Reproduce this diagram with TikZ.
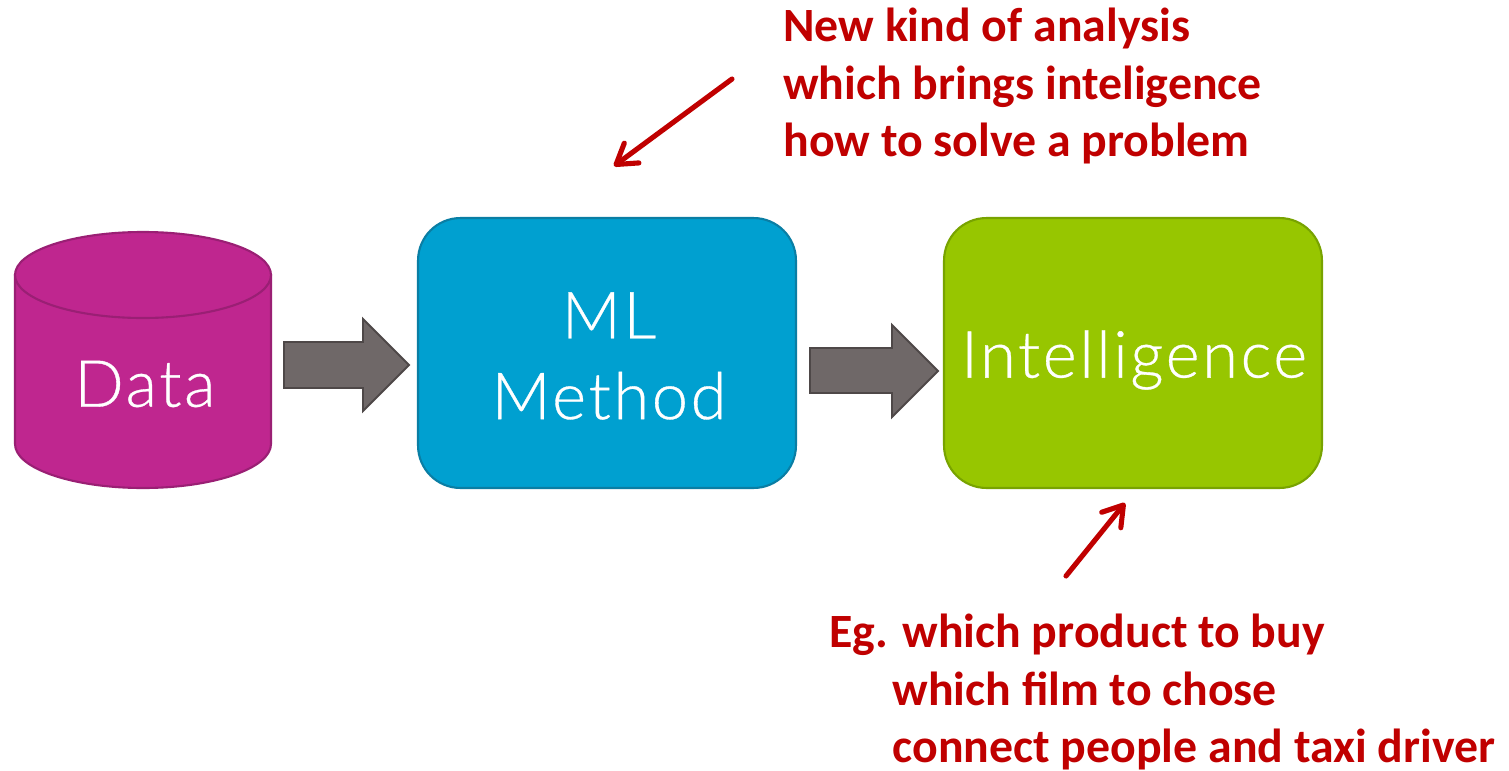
\documentclass[tikz,border=0pt]{standalone}
\usepackage{fontspec}
\setmainfont{Carlito}
\newfontfamily\lightfont{Lato Light}[LetterSpace=4,FakeBold=0.5]
\usetikzlibrary{arrows.meta}
\definecolor{cylF}{HTML}{BF268F}
\definecolor{cylD}{HTML}{9A1F74}
\definecolor{blueF}{HTML}{00A0D0}
\definecolor{blueD}{HTML}{0A7EA4}
\definecolor{greenF}{HTML}{97C600}
\definecolor{greenD}{HTML}{78A300}
\definecolor{grayF}{HTML}{6F6868}
\definecolor{grayD}{HTML}{4E4848}
\definecolor{noteRed}{HTML}{C00000}
\begin{document}
\begin{tikzpicture}[x=0.02cm,y=-0.02cm,
  whitetext/.style={text=white,font=\lightfont\fontsize{37}{46}\selectfont,align=center,inner sep=0pt},
  roundbox/.style={draw=#1,line width=1.2pt,rounded corners=0.85cm,minimum width=7.56cm,minimum height=5.4cm,inner sep=0pt},
  blockarrow/.style={fill=grayF,draw=grayD,line width=1.1pt,line join=miter},
  note/.style={text=noteRed,font=\bfseries\fontsize{27.2}{32.7}\selectfont,align=left,inner sep=0pt},
  notearrow/.style={draw=noteRed,line width=2.9pt,line cap=round,
    -{Straight Barb[length=11pt,width=14pt,line cap=round,line join=round]}}]
\useasboundingbox[fill=white] (0,0) rectangle (1509,771);

% Data cylinder
\path[fill=cylF] (15,274) -- (15,444) arc[start angle=180,end angle=0,x radius=128,y radius=44] -- (271,274) -- cycle;
\draw[draw=cylD,line width=1.2pt] (15,274) -- (15,444) arc[start angle=180,end angle=0,x radius=128,y radius=44] -- (271,274);
\draw[fill=cylF,draw=cylD,line width=1.2pt] (143,275) ellipse [x radius=128,y radius=43];
\node[whitetext] (data) at (145,384) {Data};

% boxes
\node[roundbox=blueD,fill=blueF] (ml) at (607,353) {};
\node[whitetext] (mltext) at (609,356) {ML\\Method};
\node[roundbox=greenD,fill=greenF] (intel) at (1133,353) {};
\node[whitetext] (inteltext) at (1134,360) {Intelligence};

% gray block arrows
\draw[blockarrow] (284,342) -- (363,342) -- (363,319) -- (409,365) -- (363,411) -- (363,388) -- (284,388) -- cycle;
\draw[blockarrow] (810,348) -- (892,348) -- (892,325) -- (938,371) -- (892,417) -- (892,393) -- (810,393) -- cycle;

% notes
\node[note,anchor=north west] (note1) at (783,8) {New kind of analysis\\which brings inteligence\\how to solve a problem};
\node[note,anchor=north west] (note2) at (829,614) {Eg. which product to buy\\\hspace*{36pt}which film to chose\\\hspace*{36pt}connect people and taxi driver};

\coordinate (a1s) at (732,79);
\coordinate (a1e) at (614,166);
\draw[notearrow] (a1s) -- (a1e);
\coordinate (a2s) at (1066,576);
\coordinate (a2e) at (1125,503);
\draw[notearrow] (a2s) -- (a2e);
\end{tikzpicture}
\end{document}
